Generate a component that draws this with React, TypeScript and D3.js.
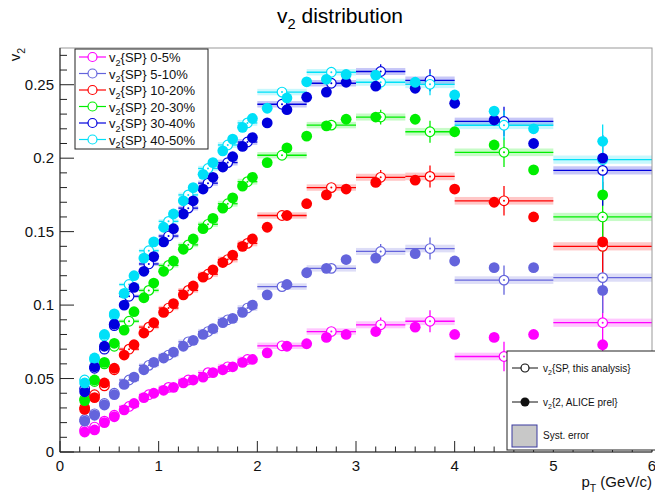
import React, { useEffect, useRef } from 'react';
import * as d3 from 'd3';

const width = 655;
const height = 493;
const frame = { left: 60, right: 652, top: 48, bottom: 452 };

// fine pT bins of the ALICE v2{2} points
const ptFine = [0.25, 0.35, 0.45, 0.55, 0.65, 0.75, 0.85, 0.95, 1.05, 1.15, 1.25, 1.35, 1.45, 1.55, 1.65, 1.75, 1.85, 1.95,
  2.1, 2.3, 2.5, 2.7, 2.9, 3.2, 3.6, 4.0, 4.4, 4.8, 5.5];

const alice0005 = [0.0136, 0.015, 0.020, 0.024, 0.0287, 0.033, 0.037, 0.040, 0.042, 0.044, 0.047, 0.049, 0.051, 0.054, 0.056, 0.058, 0.061, 0.063,
  0.0675, 0.072, 0.0737, 0.078, 0.080, 0.082, 0.085, 0.080, 0.078, 0.080, 0.073];
const alice0510 = [0.021, 0.025, 0.032, 0.039, 0.046, 0.051, 0.056, 0.061, 0.064, 0.068, 0.072, 0.076, 0.080, 0.084, 0.088, 0.091, 0.095, 0.100,
  0.107, 0.114, 0.122, 0.125, 0.131, 0.132, 0.135, 0.130, 0.1255, 0.1255, 0.110];
const alice1020 = [0.029, 0.037, 0.047, 0.057, 0.066, 0.073, 0.081, 0.088, 0.095, 0.101, 0.107, 0.113, 0.119, 0.124, 0.129, 0.134, 0.140, 0.145,
  0.153, 0.161, 0.169, 0.175, 0.179, 0.1835, 0.185, 0.179, 0.170, 0.160, 0.143];
const alice2030 = [0.035, 0.049, 0.061, 0.074, 0.083, 0.0955, 0.105, 0.115, 0.123, 0.130, 0.138, 0.145, 0.152, 0.159, 0.166, 0.173, 0.181, 0.187,
  0.197, 0.207, 0.215, 0.222, 0.2265, 0.228, 0.2265, 0.218, 0.209, 0.192, 0.175];
const alice3040 = [0.041, 0.058, 0.072, 0.087, 0.100, 0.112, 0.123, 0.133, 0.143, 0.152, 0.162, 0.171, 0.179, 0.187, 0.194, 0.201, 0.208, 0.214,
  0.224, 0.233, 0.2415, 0.245, 0.2517, 0.249, 0.2476, 0.2374, 0.226, 0.210, 0.200];
const alice4050 = [0.047, 0.064, 0.080, 0.094, 0.108, 0.120, 0.132, 0.143, 0.153, 0.162, 0.171, 0.180, 0.189, 0.197, 0.205, 0.213, 0.221, 0.227,
  0.234, 0.241, 0.252, 0.2537, 0.257, 0.2565, 0.2517, 0.243, 0.232, 0.220, 0.2115];

// SP analysis bins
const spLo = [0.2, 0.3, 0.4, 0.5, 0.6, 0.8, 1.0, 1.2, 1.4, 1.6, 1.8, 2.0, 2.5, 3.0, 3.5, 4.0, 5.0];
const spHi = [0.3, 0.4, 0.5, 0.6, 0.8, 1.0, 1.2, 1.4, 1.6, 1.8, 2.0, 2.5, 3.0, 3.5, 4.0, 5.0, 6.0];
const spStat = [0.001, 0.001, 0.001, 0.001, 0.001, 0.001, 0.001, 0.0015, 0.0015, 0.002, 0.002, 0.002, 0.003, 0.005, 0.0075, 0.01, 0.024];
const spSyst = [0.0008, 0.0008, 0.001, 0.001, 0.0012, 0.0014, 0.0015, 0.0016, 0.0018, 0.002, 0.002, 0.0022, 0.0022, 0.0024, 0.0026, 0.0026, 0.0028];

const sp0005 = [0.015, 0.017, 0.021, 0.025, 0.031, 0.039, 0.044, 0.049, 0.054, 0.058, 0.063, 0.0723, 0.082, 0.0866, 0.089, 0.065, 0.088];
const sp0510 = [0.022, 0.026, 0.033, 0.040, 0.049, 0.059, 0.066, 0.075, 0.082, 0.090, 0.098, 0.1126, 0.125, 0.1365, 0.1385, 0.117, 0.1187];
const sp1020 = [0.030, 0.039, 0.045, 0.056, 0.070, 0.085, 0.098, 0.110, 0.121, 0.131, 0.142, 0.161, 0.180, 0.187, 0.1876, 0.171, 0.140];
const sp2030 = [0.036, 0.048, 0.060, 0.072, 0.089, 0.110, 0.127, 0.141, 0.155, 0.169, 0.184, 0.202, 0.2225, 0.228, 0.218, 0.204, 0.160];
const sp3040 = [0.043, 0.057, 0.070, 0.086, 0.106, 0.128, 0.147, 0.166, 0.183, 0.197, 0.211, 0.2367, 0.251, 0.259, 0.253, 0.225, 0.1917];
const sp4050 = [0.049, 0.063, 0.079, 0.093, 0.114, 0.137, 0.157, 0.175, 0.193, 0.209, 0.224, 0.245, 0.2585, 0.2517, 0.2503, 0.2224, 0.199];

const centralities = ['0-5%', '5-10%', '10-20%', '20-30%', '30-40%', '40-50%'];
const colors = ['#ff00ff', '#6464dc', '#ff0000', '#00ee00', '#0000dd', '#00e0f8'];
const aliceSeries = [alice0005, alice0510, alice1020, alice2030, alice3040, alice4050];
const spSeries = [sp0005, sp0510, sp1020, sp2030, sp3040, sp4050];

const xTicks = [0, 1, 2, 3, 4, 5, 6];
const yTicks = [0, 0.05, 0.1, 0.15, 0.2, 0.25];
const yTickLabels = ['0', '0.05', '0.1', '0.15', '0.2', '0.25'];

const font = "'Liberation Sans', Arial, sans-serif";

// text with a subscript after the first letter
function subText(sel, base, sub, rest, size) {
  sel.append('tspan').text(base);
  sel.append('tspan').attr('dy', size * 0.3).attr('font-size', size * 0.7).text(sub);
  sel.append('tspan').attr('dy', -size * 0.3).text(rest);
  return sel;
}

export default function App() {
  const ref = useRef(null);

  useEffect(() => {
    const svg = d3.select(ref.current);
    svg.selectAll('*').remove();

    const x = d3.scaleLinear().domain([0, 6]).range([frame.left, frame.right]);
    const y = d3.scaleLinear().domain([0, 0.275]).range([frame.bottom, frame.top]);

    svg.append('rect').attr('width', width).attr('height', height).attr('fill', 'white');

    // title
    subText(svg.append('text')
      .attr('x', 340).attr('y', 23)
      .attr('text-anchor', 'middle')
      .attr('font-family', font).attr('font-size', 21), 'v', '2', ' distribution', 21);

    const plot = svg.append('g');

    // SP: syst boxes
    spSeries.forEach((vals, si) => {
      plot.append('g').selectAll('rect').data(vals).join('rect')
        .attr('x', (d, i) => x(spLo[i]))
        .attr('width', (d, i) => x(spHi[i]) - x(spLo[i]))
        .attr('y', (d, i) => y(d + spSyst[i]))
        .attr('height', (d, i) => y(d - spSyst[i]) - y(d + spSyst[i]))
        .attr('fill', colors[si]).attr('fill-opacity', 0.22);
    });

    // SP: bin width and stat error lines
    spSeries.forEach((vals, si) => {
      const g = plot.append('g').attr('stroke', colors[si]).attr('stroke-width', 1.3);
      g.selectAll('line.h').data(vals).join('line').attr('class', 'h')
        .attr('x1', (d, i) => x(spLo[i])).attr('x2', (d, i) => x(spHi[i]))
        .attr('y1', d => y(d)).attr('y2', d => y(d));
      g.selectAll('line.v').data(vals).join('line').attr('class', 'v')
        .attr('x1', (d, i) => x((spLo[i] + spHi[i]) / 2)).attr('x2', (d, i) => x((spLo[i] + spHi[i]) / 2))
        .attr('y1', (d, i) => y(d - spStat[i])).attr('y2', (d, i) => y(d + spStat[i]));
    });

    // SP: open markers
    spSeries.forEach((vals, si) => {
      const g = plot.append('g');
      g.selectAll('circle.o').data(vals).join('circle').attr('class', 'o')
        .attr('cx', (d, i) => x((spLo[i] + spHi[i]) / 2)).attr('cy', d => y(d)).attr('r', 4.8)
        .attr('fill', 'white').attr('stroke', colors[si]).attr('stroke-width', 1.2);
      g.selectAll('circle.c').data(vals).join('circle').attr('class', 'c')
        .attr('cx', (d, i) => x((spLo[i] + spHi[i]) / 2)).attr('cy', d => y(d)).attr('r', 1)
        .attr('fill', colors[si]);
    });

    // ALICE v2{2}: filled markers
    aliceSeries.forEach((vals, si) => {
      plot.append('g').selectAll('circle').data(vals).join('circle')
        .attr('cx', (d, i) => x(ptFine[i])).attr('cy', d => y(d)).attr('r', 5.4)
        .attr('fill', colors[si]);
    });

    // frame
    svg.append('rect')
      .attr('x', frame.left).attr('y', frame.top)
      .attr('width', frame.right - frame.left).attr('height', frame.bottom - frame.top)
      .attr('fill', 'none').attr('stroke', '#999').attr('stroke-width', 1);

    const axes = svg.append('g').attr('stroke', '#222').attr('stroke-width', 1);
    axes.append('line').attr('x1', frame.left).attr('x2', frame.right).attr('y1', frame.bottom).attr('y2', frame.bottom);
    axes.append('line').attr('x1', frame.left).attr('x2', frame.left).attr('y1', frame.bottom).attr('y2', frame.top);

    // x ticks
    const xMinor = d3.range(0, 6.001, 0.2);
    axes.selectAll('line.xt').data(xMinor).join('line').attr('class', 'xt')
      .attr('x1', d => x(d)).attr('x2', d => x(d))
      .attr('y1', frame.bottom)
      .attr('y2', d => frame.bottom - (Math.abs(d - Math.round(d)) < 1e-6 ? 11 : 5.5));

    // y ticks
    const yMinor = d3.range(0, 0.2751, 0.01);
    axes.selectAll('line.yt').data(yMinor).join('line').attr('class', 'yt')
      .attr('y1', d => y(d)).attr('y2', d => y(d))
      .attr('x1', frame.left)
      .attr('x2', d => frame.left + (Math.abs(d * 20 - Math.round(d * 20)) < 1e-6 ? 14 : 7));

    const labels = svg.append('g').attr('font-family', font).attr('fill', '#111');
    labels.selectAll('text.xl').data(xTicks).join('text').attr('class', 'xl')
      .attr('x', d => x(d)).attr('y', frame.bottom + 19)
      .attr('text-anchor', 'middle').attr('font-size', 15)
      .text(d => d);
    labels.selectAll('text.yl').data(yTicks).join('text').attr('class', 'yl')
      .attr('x', frame.left - 6).attr('y', d => y(d) + 5)
      .attr('text-anchor', 'end').attr('font-size', 15)
      .text((d, i) => yTickLabels[i]);

    // axis titles
    subText(labels.append('text')
      .attr('x', frame.right).attr('y', frame.bottom + 35)
      .attr('text-anchor', 'end').attr('font-size', 15), 'p', 'T', ' (GeV/c)', 15);
    subText(labels.append('text')
      .attr('transform', `translate(20,${frame.top}) rotate(-90)`)
      .attr('text-anchor', 'end').attr('font-size', 15), 'v', '2', '', 15);

    // centrality legend
    const leg = svg.append('g');
    leg.append('rect').attr('x', 75).attr('y', 49).attr('width', 133).attr('height', 100)
      .attr('fill', 'white').attr('stroke', '#222').attr('stroke-width', 1);
    centralities.forEach((c, i) => {
      const yy = 57 + i * 16.5;
      leg.append('line').attr('x1', 79).attr('x2', 106).attr('y1', yy).attr('y2', yy)
        .attr('stroke', colors[i]).attr('stroke-width', 1.2);
      leg.append('circle').attr('cx', 92.5).attr('cy', yy).attr('r', 4.5)
        .attr('fill', 'white').attr('stroke', colors[i]).attr('stroke-width', 1.2);
      subText(leg.append('text').attr('x', 109).attr('y', yy + 5)
        .attr('font-family', font).attr('font-size', 13).attr('fill', '#111'), 'v', '2', `{SP} ${c}`, 13);
    });

    // marker style legend
    const leg2 = svg.append('g');
    leg2.append('rect').attr('x', 507).attr('y', 351).attr('width', 150).attr('height', 99)
      .attr('fill', 'white').attr('stroke', '#222').attr('stroke-width', 1);
    leg2.append('line').attr('x1', 512).attr('x2', 538).attr('y1', 368).attr('y2', 368).attr('stroke', '#111');
    leg2.append('circle').attr('cx', 525).attr('cy', 368).attr('r', 4)
      .attr('fill', 'white').attr('stroke', '#111').attr('stroke-width', 1.2);
    leg2.append('line').attr('x1', 512).attr('x2', 538).attr('y1', 402).attr('y2', 402).attr('stroke', '#111');
    leg2.append('circle').attr('cx', 525).attr('cy', 402).attr('r', 4.5).attr('fill', '#111');
    leg2.append('rect').attr('x', 512).attr('y', 425).attr('width', 25).attr('height', 22)
      .attr('fill', '#c8c8c8').attr('stroke', '#3a3aa0').attr('stroke-width', 1);
    const t2 = leg2.append('g').attr('font-family', font).attr('font-size', 10).attr('fill', '#111');
    subText(t2.append('text').attr('x', 543).attr('y', 372), 'v', '2', '{SP, this analysis}', 10);
    subText(t2.append('text').attr('x', 543).attr('y', 406), 'v', '2', '{2, ALICE prel}', 10);
    t2.append('text').attr('x', 543).attr('y', 439).text('Syst. error');
  }, []);

  return (
    <div style={{ position: 'absolute', left: 0, top: 0 }}>
      <svg ref={ref} width={width} height={height} viewBox={`0 0 ${width} ${height}`}></svg>
    </div>
  );
}
